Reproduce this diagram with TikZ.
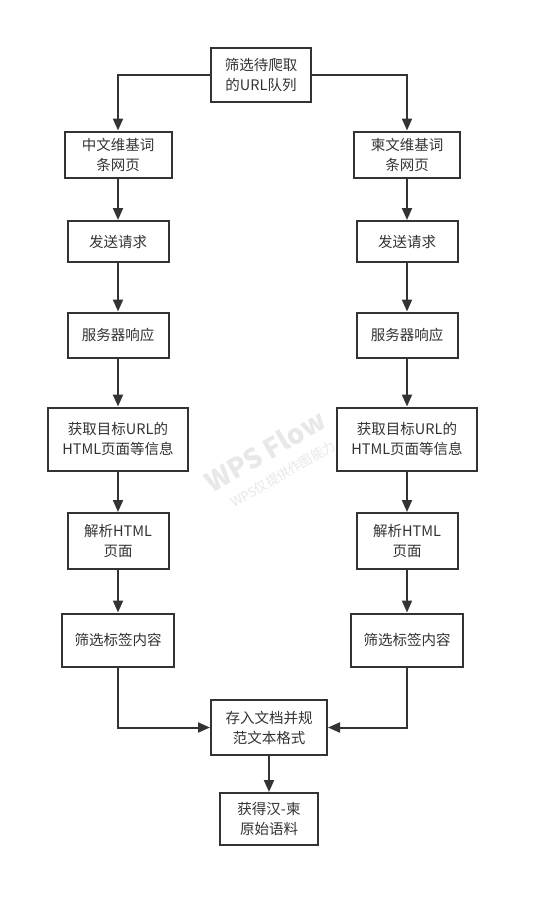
\documentclass[tikz,border=0pt]{standalone}
\usepackage{fontspec}
\setmainfont{Noto Sans CJK SC}
\usetikzlibrary{arrows.meta}
\definecolor{ink}{HTML}{333333}
\definecolor{wm}{HTML}{E8E8E8}
\begin{document}
\begin{tikzpicture}[x=1pt,y=-1pt,
  box/.style={draw=ink, line width=2pt, fill=white, inner sep=0pt, text=ink,
    align=center, font=\fontsize{14.5}{20}\selectfont},
  conn/.style={draw=ink, line width=2pt, -{Triangle[length=12pt,width=10pt]}},
  wmark/.style={text=wm, rotate=30, inner sep=0pt}]
\useasboundingbox (0,0) rectangle (539,908);
\fill[white] (0,0) rectangle (539,908);
% watermark
\node[wmark, font=\fontsize{27}{27}\bfseries\selectfont] (wm1) at (265,451) {WPS Flow};
\node[wmark, font=\fontsize{13}{13}\selectfont] (wm2) at (283,474) {WPS仅提供作图能力};
% nodes
\node[box, minimum width=100pt, minimum height=54pt] (top) at (261,75) {筛选待爬取\\的URL队列};
\node[box, minimum width=107pt, minimum height=46pt] (zh1) at (118,154.5) {中文维基词\\条网页};
\node[box, minimum width=106pt, minimum height=46pt] (km1) at (407,154.5) {柬文维基词\\条网页};
\node[box, minimum width=101pt, minimum height=41pt] (zh2) at (118,241.5) {发送请求};
\node[box, minimum width=101pt, minimum height=41pt] (km2) at (407,241.5) {发送请求};
\node[box, minimum width=101pt, minimum height=45pt] (zh3) at (118,335) {服务器响应};
\node[box, minimum width=101pt, minimum height=45pt] (km3) at (407,335) {服务器响应};
\node[box, minimum width=140pt, minimum height=63pt] (zh4) at (118,439) {获取目标URL的\\HTML页面等信息};
\node[box, minimum width=140pt, minimum height=63pt] (km4) at (407,439) {获取目标URL的\\HTML页面等信息};
\node[box, minimum width=101pt, minimum height=56pt] (zh5) at (118,541) {解析HTML\\页面};
\node[box, minimum width=101pt, minimum height=56pt] (km5) at (407,541) {解析HTML\\页面};
\node[box, minimum width=112pt, minimum height=53pt] (zh6) at (118,640) {筛选标签内容};
\node[box, minimum width=112pt, minimum height=53pt] (km6) at (407,640) {筛选标签内容};
\node[box, minimum width=116pt, minimum height=55pt] (store) at (269,727.5) {存入文档并规\\范文本格式};
\node[box, minimum width=98pt, minimum height=52pt] (final) at (269,819) {获得汉-柬\\原始语料};
% connectors
\draw[conn] (top.west) -| (zh1.north);
\draw[conn] (top.east) -| (km1.north);
\draw[conn] (zh1) -- (zh2);
\draw[conn] (zh2) -- (zh3);
\draw[conn] (zh3) -- (zh4);
\draw[conn] (zh4) -- (zh5);
\draw[conn] (zh5) -- (zh6);
\draw[conn] (km1) -- (km2);
\draw[conn] (km2) -- (km3);
\draw[conn] (km3) -- (km4);
\draw[conn] (km4) -- (km5);
\draw[conn] (km5) -- (km6);
\draw[conn] (zh6.south) |- (store.west);
\draw[conn] (km6.south) |- (store.east);
\draw[conn] (store) -- (final);
\end{tikzpicture}
\end{document}
